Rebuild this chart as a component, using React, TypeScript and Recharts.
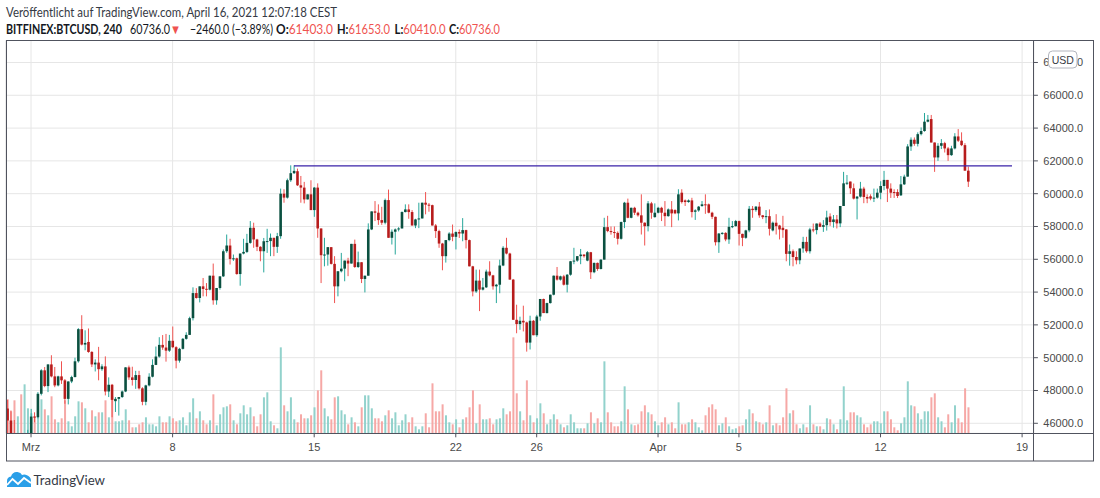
import React from 'react';
import { ComposedChart, Bar, XAxis, YAxis, CartesianGrid, ReferenceLine } from 'recharts';

// BITFINEX:BTCUSD, 4h candles. First candle: Feb 27 2021 20:00 UTC.
const opens = [
  46900, 46170, 45100, 44700, 45000, 43500, 44800,
  45200, 46410, 46370, 47800, 49230, 48270,
  49590, 48860, 48310, 48860, 48620, 47490,
  48550, 48820, 49780, 51740, 50800, 50960,
  50350, 49590, 49700, 49300, 49470, 47940,
  48350, 47350, 47490, 47600, 47940, 49410,
  48800, 48640, 48940, 48130, 47310, 48310,
  48840, 49560, 50070, 50780, 50620, 50430,
  51030, 50640, 49820, 50540, 51150, 51390,
  52410, 53940, 53640, 54350, 54200, 54150,
  55000, 53500, 54250, 54960, 56490, 56840,
  56020, 56060, 55100, 56350, 56450, 57000,
  57920, 57210, 56760, 56490, 57100, 57110,
  57310, 56760, 57410, 60000, 59760, 60820,
  61250, 61370, 60510, 60370, 59650, 59960,
  59000, 60370, 57880, 56250, 56290, 56740,
  55720, 54350, 55270, 55430, 55920, 55740,
  56940, 55530, 55820, 54800, 55000, 57820,
  58920, 58840, 58390, 58230, 59610, 57310,
  57680, 57820, 57880, 58880, 59040, 58880,
  58060, 58430, 58490, 59450, 59330, 59300,
  58060, 57720, 56960, 56190, 57170, 57570,
  57370, 57660, 57570, 57780, 57170, 55570,
  54040, 54700, 54150, 54290, 55250, 55020,
  54350, 54450, 55620, 56700, 56350, 54760,
  52310, 52050, 52250, 52150, 50920, 52250,
  51370, 52510, 53580, 52720, 53330, 53840,
  55000, 54760, 54960, 54450, 55060, 55880,
  55920, 56190, 56290, 55920, 56430, 55210,
  55780, 55410, 55980, 57960, 57720, 57660,
  57610, 57250, 58270, 59450, 58530, 59140,
  58840, 58680, 58230, 58020, 59410, 58570,
  58840, 59140, 58840, 58630, 59040, 59000,
  58800, 60060, 59590, 59490, 59590, 58900,
  58980, 59250, 59350, 59350, 58840, 58590,
  57040, 57570, 57610, 57210, 57980, 58020,
  58330, 57550, 57310, 57760, 59080, 59000,
  59210, 58680, 58570, 58630, 57760, 58230,
  58060, 57920, 57820, 56330, 56490, 56140,
  55940, 56660, 57060, 56490, 57820, 57780,
  58180, 57980, 58080, 58610, 58270, 58430,
  58190, 59250, 60630, 60740, 60330, 59700,
  59820, 60310, 59800, 59840, 59700, 59760,
  60060, 60470, 60840, 60310, 60100, 60100,
  59900, 60570, 61040, 62880, 63290, 63040,
  63630, 63820, 64390, 64550, 63120, 62210,
  62920, 63080, 62760, 62350, 62760, 63490,
  63230, 62960, 61403,
];

const highs = [
  47430, 46780, 46200, 45300, 45400, 45000, 45600,
  46880, 46670, 47900, 49300, 49430, 49600,
  50150, 49430, 48900, 49780, 48700, 48560,
  48900, 50000, 51800, 52590, 51670, 51780,
  50400, 49900, 50660, 49600, 50080, 48800,
  48400, 47600, 47600, 48000, 49420, 49520,
  49450, 49200, 49200, 48200, 48350, 49050,
  49900, 50680, 51250, 51380, 51450, 51390,
  51900, 50700, 50600, 51200, 51550, 52500,
  54290, 54240, 54350, 54860, 54550, 55000,
  55740, 54250, 54960, 56600, 57510, 57250,
  56290, 56100, 56350, 57250, 57550, 58330,
  58230, 57250, 56800, 57300, 57860, 57570,
  57310, 57610, 60310, 60270, 60920, 61730,
  61730, 61530, 61080, 60720, 59960, 60820,
  60410, 60630, 57880, 57310, 56740, 56740,
  56190, 55270, 56390, 55920, 56090, 56940,
  57200, 56470, 55820, 55000, 58190, 58920,
  59550, 59350, 59200, 59700, 60250, 57820,
  57880, 57960, 58920, 59350, 59350, 59000,
  58470, 59450, 59450, 60100, 59430, 59330,
  58150, 57800, 57000, 57170, 57650, 58120,
  57700, 57820, 58510, 57800, 57200, 55600,
  55370, 55370, 54860, 55370, 55880, 55050,
  54500, 55980, 56800, 57310, 56400, 54800,
  53230, 52500, 53170, 52200, 52560, 52300,
  52610, 53580, 53600, 53350, 53850, 55010,
  55530, 55000, 55050, 55100, 55900, 56700,
  56200, 56630, 56300, 56500, 56450, 55800,
  55800, 56000, 58530, 58650, 58000, 58000,
  57700, 58300, 59500, 59700, 59150, 59200,
  58900, 59960, 58250, 59550, 59500, 59410,
  59200, 59200, 59550, 59100, 59550, 59050,
  60270, 60270, 59650, 59650, 59750, 59050,
  59250, 59550, 59960, 59400, 58900, 58600,
  57600, 57650, 57650, 58530, 58330, 58400,
  58360, 57560, 57800, 59250, 59250, 59250,
  59490, 58700, 59000, 59040, 58300, 58750,
  58100, 58650, 57830, 56900, 56600, 56490,
  56660, 57370, 57370, 57920, 58180, 58180,
  58270, 58390, 58960, 58800, 58700, 58700,
  59250, 61330, 61140, 60740, 60620, 59860,
  60720, 60420, 59960, 59960, 60310, 60310,
  60760, 61390, 60840, 60630, 60270, 60270,
  61080, 61160, 63020, 63430, 63430, 63740,
  64040, 64920, 64800, 64800, 63120, 63080,
  63330, 63160, 62850, 62920, 63690, 63940,
  63740, 63080, 61653,
];

const lows = [
  45300, 44900, 44400, 43800, 43000, 43200, 44400,
  44950, 46060, 46300, 47700, 48200, 47900,
  48800, 48200, 48250, 48400, 47190, 47150,
  48450, 48800, 49700, 50750, 50450, 50300,
  49430, 49160, 48620, 49200, 47700, 47600,
  46370, 46690, 46470, 47550, 47900, 48650,
  48300, 48100, 48060, 47100, 47100, 48250,
  48800, 49550, 50000, 50480, 49760, 50350,
  50580, 49350, 49700, 50500, 51100, 51390,
  52270, 53600, 53370, 53740, 53740, 54100,
  53230, 53230, 54150, 54920, 56390, 55680,
  55900, 55060, 54390, 56300, 56380, 56950,
  56700, 56500, 55880, 55200, 56390, 56190,
  56190, 56390, 57250, 59450, 59700, 60720,
  61200, 60470, 59450, 59410, 59650, 59000,
  58590, 57310, 54550, 55570, 55610, 55680,
  53330, 53740, 55200, 54660, 54970, 55740,
  55470, 55470, 54550, 53980, 55000, 57780,
  58330, 58100, 58100, 58130, 57310, 56900,
  56290, 57700, 57880, 58860, 58470, 58060,
  57900, 57900, 58490, 58740, 58900, 58060,
  57300, 56700, 55330, 55800, 57100, 57100,
  56600, 57300, 57100, 56660, 55570, 53740,
  53950, 52840, 54100, 54250, 54960, 54150,
  53330, 53930, 55580, 56300, 54760, 52310,
  51490, 51700, 51600, 50370, 50500, 51370,
  51270, 52250, 52720, 52700, 53300, 53800,
  54700, 54700, 54400, 53980, 55000, 55700,
  55850, 55700, 56100, 55880, 54800, 55150,
  55300, 55380, 55980, 57650, 57500, 57300,
  56900, 57200, 57900, 58500, 58500, 58700,
  58600, 57510, 56840, 57700, 58470, 58540,
  58800, 58330, 58020, 58600, 57960, 58750,
  58370, 59400, 59250, 59450, 58550, 58400,
  58900, 59200, 58770, 58800, 58450, 56840,
  56390, 57500, 57100, 56940, 57900, 58000,
  56840, 56800, 57250, 57650, 58530, 58900,
  58530, 58450, 58200, 57450, 57700, 57510,
  57210, 57310, 55880, 55610, 55570, 55690,
  55700, 56400, 56400, 56350, 57650, 57520,
  57960, 57670, 57750, 58040, 57930, 57880,
  57960, 59250, 60530, 59980, 59650, 58430,
  59760, 59420, 59420, 59600, 59490, 59700,
  59660, 60210, 59490, 59740, 59740, 59740,
  59860, 60530, 61040, 62610, 62920, 62880,
  63550, 63780, 64350, 63120, 61330, 62000,
  62720, 62510, 62000, 62310, 62700, 63150,
  62900, 61400, 60410,
];

const closes = [
  46170, 45100, 44700, 45000, 43500, 44800, 45200,
  46410, 46370, 47800, 49230, 48270, 49590,
  48860, 48310, 48860, 48620, 47490, 48550,
  48820, 49780, 51740, 50800, 50900, 50350,
  49590, 49700, 49300, 49470, 47940, 48350,
  47430, 47490, 47600, 47940, 49410, 48800,
  48640, 48940, 48130, 47310, 48310, 48840,
  49560, 50070, 50780, 50620, 50430, 51030,
  50640, 49820, 50540, 51150, 51390, 52410,
  53940, 53640, 54350, 54190, 54150, 55000,
  53500, 54250, 54960, 56490, 56840, 56020,
  56060, 55100, 56350, 56450, 57000, 57920,
  57210, 56760, 56490, 57100, 57110, 57310,
  56760, 57410, 60000, 59760, 60820, 61250,
  61390, 60510, 60370, 59650, 59960, 59000,
  60370, 57880, 56250, 56290, 56740, 55720,
  54350, 55270, 55430, 55920, 55740, 56940,
  55530, 55820, 54800, 55000, 57820, 58920,
  58840, 58390, 58230, 59610, 57310, 57680,
  57820, 57880, 58880, 59040, 58880, 58060,
  58430, 58490, 59450, 59330, 59300, 58060,
  57720, 56960, 56190, 57170, 57570, 57370,
  57660, 57570, 57780, 57170, 55570, 54040,
  54700, 54150, 54290, 55250, 55020, 54350,
  54450, 55620, 56700, 56350, 54760, 52310,
  52050, 52250, 52150, 50920, 52250, 51370,
  52510, 53580, 52720, 53330, 53840, 55000,
  54760, 54960, 54450, 55060, 55880, 55920,
  56190, 56290, 56190, 56430, 55210, 55780,
  55410, 55980, 57960, 57720, 57660, 57610,
  57250, 58270, 59450, 58530, 59140, 58840,
  58680, 58230, 58020, 59410, 58840, 58840,
  59140, 58840, 58630, 59040, 58800, 58800,
  59960, 59490, 59490, 59590, 58880, 58980,
  59210, 59350, 59290, 58840, 58590, 57040,
  57570, 57610, 57210, 57980, 58020, 58330,
  57550, 57310, 57760, 59080, 59000, 59210,
  58680, 58570, 58630, 57860, 58230, 58020,
  57820, 57780, 56330, 56490, 56140, 55940,
  56660, 57060, 56490, 57820, 57780, 58180,
  57980, 58080, 58550, 58270, 58430, 58190,
  59250, 60630, 60670, 60330, 59700, 59820,
  60310, 59800, 59700, 59700, 59760, 60060,
  60470, 60840, 60310, 60060, 60060, 59860,
  60570, 61040, 62880, 63290, 63040, 63630,
  63820, 64390, 64510, 63120, 62210, 62920,
  63080, 62760, 62350, 62760, 63490, 63230,
  62960, 61403, 60736,
];

// volume, in hundreds of BTC
const volumes = [
  34, 22, 33, 17, 39, 49, 25,
  20, 17, 27, 34, 24, 18,
  37, 14, 11, 15, 33, 12,
  7, 17, 32, 31, 25, 11,
  23, 17, 21, 21, 33, 16,
  37, 12, 12, 13, 24, 13,
  6, 6, 9, 11, 16, 9,
  9, 7, 17, 11, 11, 17,
  15, 12, 13, 16, 8, 21,
  35, 15, 22, 13, 9, 13,
  39, 8, 19, 26, 27, 29,
  13, 9, 20, 28, 19, 26,
  17, 7, 19, 36, 41, 12,
  8, 5, 86, 28, 22, 36,
  14, 11, 19, 15, 15, 18,
  26, 43, 63, 25, 17, 14,
  36, 37, 23, 19, 9, 16,
  11, 7, 26, 38, 38, 25,
  15, 15, 12, 18, 23, 15,
  21, 8, 13, 19, 11, 16,
  7, 4, 7, 20, 6, 50,
  22, 22, 29, 18, 11, 9,
  14, 6, 14, 16, 26, 43,
  10, 29, 14, 14, 15, 9,
  14, 15, 25, 19, 22, 96,
  40, 22, 13, 53, 18, 11,
  15, 30, 20, 9, 14, 19,
  14, 9, 6, 8, 19, 11,
  5, 5, 5, 10, 21, 10,
  15, 11, 72, 21, 11, 7,
  7, 12, 47, 24, 9, 8,
  9, 22, 28, 21, 19, 12,
  8, 11, 16, 9, 11, 5,
  31, 9, 9, 11, 14, 11,
  6, 3, 18, 26, 29, 24,
  8, 10, 16, 7, 4, 5,
  7, 8, 14, 24, 20, 12,
  11, 9, 11, 28, 8, 10,
  8, 16, 45, 20, 23, 9,
  5, 9, 6, 28, 9, 7,
  7, 4, 15, 14, 9, 4,
  14, 47, 13, 21, 21, 18,
  16, 9, 6, 9, 12, 12,
  10, 22, 22, 14, 6, 3,
  10, 16, 52, 28, 27, 20,
  14, 22, 22, 36, 40, 16,
  12, 6, 19, 11, 28, 15,
  11, 45, 26,
];

const xTickTimes = [
  '2021-03-01T00:00', '2021-03-08T00:00', '2021-03-15T00:00', '2021-03-22T00:00', '2021-03-26T00:00',
  '2021-04-01T00:00', '2021-04-05T00:00', '2021-04-12T00:00', '2021-04-19T00:00',
];
const xTickLabels = ['Mrz', '8', '15', '22', '26', 'Apr', '5', '12', '19'];

const priceTicks = [46000, 48000, 50000, 52000, 54000, 56000, 58000, 60000, 62000, 64000, 66000, 68000];

const levelPrice = 61700;
const levelFrom = '2021-03-14T00:00';
const levelTo = '2021-04-18T12:00';

// time slots: 4h apart, some empty ones on the right like TradingView
const START_MS = Date.UTC(2021, 1, 27, 20);
const SLOT_MS = 4 * 3600 * 1000;
const SLOT_COUNT = 305;
const slotTimes = Array.from({ length: SLOT_COUNT }, (_, k) =>
  new Date(START_MS + k * SLOT_MS).toISOString().slice(0, 16)
);

const chartData = slotTimes.map((time, k) => {
  if (k >= opens.length) return { time };
  return {
    time,
    open: opens[k],
    high: highs[k],
    low: lows[k],
    close: closes[k],
    range: [lows[k], highs[k]],
    volume: volumes[k],
  };
});

const UP_BODY = '#0b5040';
const UP_WICK = '#26a69a';
const DOWN_BODY = '#b71c1c';
const DOWN_WICK = '#ef5350';
const UP_VOL = '#92d2cc';
const DOWN_VOL = '#f6a8a6';
const RED_TEXT = '#ef5350';
const AXIS_FONT = "'Liberation Sans', Arial, sans-serif";
const TEXT_FONT = "Lato, 'Liberation Sans', sans-serif";

const Candle = (props: any) => {
  const { x, y, width, height, payload } = props;
  if (!payload || payload.open == null || !Number.isFinite(y)) return <g />;
  const { open, close, high, low } = payload;
  const unit = height / Math.max(high - low, 1e-6);
  const yOf = (v: number) => y + (high - v) * unit;
  const cx = x + width / 2;
  const up = close >= open;
  const top = yOf(Math.max(open, close));
  const bodyH = Math.max(yOf(Math.min(open, close)) - top, 1);
  const bodyW = 2.6;
  return (
    <g>
      <line x1={cx} x2={cx} y1={y} y2={y + height} stroke={up ? UP_WICK : DOWN_WICK} strokeWidth={1} />
      <rect x={cx - bodyW / 2} y={top} width={bodyW} height={bodyH} fill={up ? UP_BODY : DOWN_BODY} />
    </g>
  );
};

const VolumeBar = (props: any) => {
  const { x, y, width, height, payload } = props;
  if (!payload || payload.volume == null || !Number.isFinite(y)) return <g />;
  const up = payload.close >= payload.open;
  return <rect x={x} y={y} width={width} height={height} fill={up ? UP_VOL : DOWN_VOL} />;
};

const Logo = () => (
  <g>
    <path
      d="M7 487 L7 481 Q7 477 11 476.5 Q12.5 471.5 17.5 472 Q21 472.3 22 475 Q24.5 473.8 27 475.3 Q31 477 31 481 L31 487 Z"
      fill="#2a9fe8"
    />
    <polyline points="7,485 12.5,479 18,484 24,478 31,483" fill="none" stroke="#fff" strokeWidth={1.8} />
    <text x={33.5} y={485} fontFamily={TEXT_FONT} fontSize={14} fill="#363a45" textLength={71.5} lengthAdjust="spacingAndGlyphs">
      TradingView
    </text>
  </g>
);

// OHLC legend: label, value, left x, width
const ohlcLabels = ['O:', 'H:', 'L:', 'C:'];
const ohlcValues = ['61403.0', '61653.0', '60410.0', '60736.0'];
const ohlcX = [276, 337, 394.5, 449];
const ohlcW = [57, 53, 51, 51];

const Header = () => (
  <g fontFamily={TEXT_FONT} fontSize={12.6}>
    <text x={6} y={17.3} fill="#363a45" textLength={331} lengthAdjust="spacingAndGlyphs">
      Veröffentlicht auf TradingView.com, April 16, 2021 12:07:18 CEST
    </text>
    <text x={6} y={34} fill="#131722" fontWeight="bold" textLength={116} lengthAdjust="spacingAndGlyphs">
      BITFINEX:BTCUSD, 240
    </text>
    <text x={130} y={34} fill="#131722" textLength={51} lengthAdjust="spacingAndGlyphs">
      <tspan>60736.0</tspan>
      <tspan fill={RED_TEXT} fontSize={13}>▼</tspan>
    </text>
    <text x={190} y={34} fill="#131722" textLength={83} lengthAdjust="spacingAndGlyphs">
      −2460.0 (−3.89%)
    </text>
    {ohlcLabels.map((label, k) => (
      <text key={label} x={ohlcX[k]} y={34} textLength={ohlcW[k]} lengthAdjust="spacingAndGlyphs">
        <tspan fill="#131722" fontWeight="bold">{label}</tspan>
        <tspan fill={RED_TEXT}>{ohlcValues[k]}</tspan>
      </text>
    ))}
  </g>
);

const Frame = () => (
  <g stroke="#50535e" strokeWidth={1} fill="none">
    <rect x={6.5} y={40.5} width={1087} height={420.5} />
    <line x1={1033.5} x2={1033.5} y1={40.5} y2={461} />
    <line x1={6.5} x2={1093.5} y1={433.5} y2={433.5} />
  </g>
);

const App: React.FC = () => (
  <div style={{ position: 'absolute', left: 0, top: 0, width: 1100, height: 498, background: '#fff' }}>
    <ComposedChart
      width={1100}
      height={498}
      data={chartData}
      margin={{ top: 40.5, right: 6.1, bottom: 34.7, left: 5.74 }}
    >
      <XAxis xAxisId="vol" dataKey="time" type="category" hide />
      <XAxis
        xAxisId="time"
        dataKey="time"
        type="category"
        ticks={xTickTimes}
        interval={0}
        height={30}
        tickFormatter={(t: string) => xTickLabels[xTickTimes.indexOf(t)] ?? ''}
        axisLine={false}
        tickLine={{ stroke: '#50535e' }}
        tickSize={4}
        tickMargin={5.5}
        tick={{ fontSize: 11, fill: '#4a4a4a', fontFamily: AXIS_FONT }}
      />
      <YAxis
        yAxisId="price"
        orientation="right"
        width={60}
        domain={[45390, 69340]}
        allowDataOverflow
        ticks={priceTicks}
        interval={0}
        tickFormatter={(v: number) => v.toFixed(1)}
        axisLine={false}
        tickLine={{ stroke: '#50535e' }}
        tickSize={4}
        tickMargin={5.4}
        tick={{ fontSize: 11, fill: '#4a4a4a', fontFamily: AXIS_FONT }}
      />
      <YAxis yAxisId="vol" hide domain={[0, 393]} allowDataOverflow />
      <CartesianGrid xAxisId="time" yAxisId="price" stroke="#e6e6e6" />
      <Bar
        xAxisId="vol"
        yAxisId="vol"
        dataKey="volume"
        barSize={2}
        shape={VolumeBar}
        isAnimationActive={false}
      />
      <Bar
        xAxisId="time"
        yAxisId="price"
        dataKey="range"
        shape={Candle}
        isAnimationActive={false}
      />
      <ReferenceLine
        xAxisId="time"
        yAxisId="price"
        segment={[{ x: levelFrom, y: levelPrice }, { x: levelTo, y: levelPrice }]}
        stroke="#3a22a8"
        strokeWidth={1.2}
      />
    </ComposedChart>
    <svg
      width={1100}
      height={498}
      style={{ position: 'absolute', left: 0, top: 0, pointerEvents: 'none' }}
    >
      <Frame />
      <rect x={1048.5} y={51} width={28.5} height={17} rx={4} fill="#fff" stroke="#b2b5be" />
      <text x={1062.8} y={63.5} textAnchor="middle" fontFamily={AXIS_FONT} fontSize={10.5} fill="#363a45">
        USD
      </text>
      <Header />
      <Logo />
    </svg>
  </div>
);

export default App;
